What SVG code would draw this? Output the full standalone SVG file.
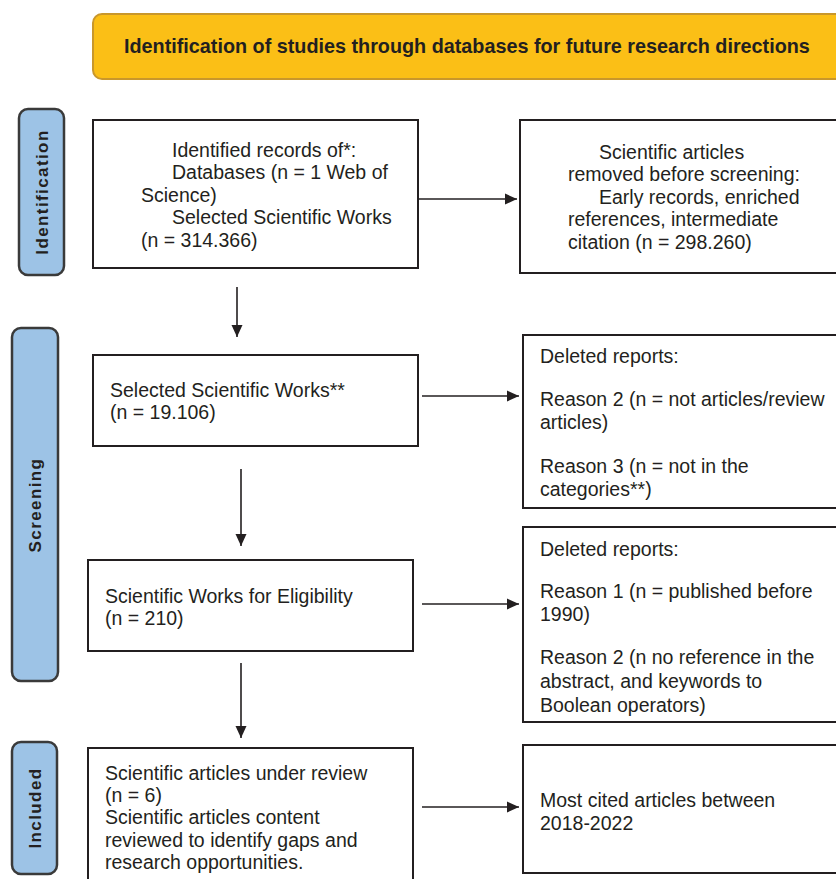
<svg xmlns="http://www.w3.org/2000/svg" width="836" height="879" viewBox="0 0 836 879">
<defs>
<style>
.box{fill:#fff;stroke:#231f20;stroke-width:2}
.bar{fill:#9dc3e6;stroke:#3a3a3a;stroke-width:2.5}
.t{font-family:"Liberation Sans",Arial,sans-serif;font-size:19.5px;fill:#231f20}
.side{font-family:"Liberation Sans",Arial,sans-serif;font-size:17px;font-weight:bold;fill:#231f20;text-anchor:middle;letter-spacing:1.4px}
.title{font-family:"Liberation Sans",Arial,sans-serif;font-size:19.8px;font-weight:bold;fill:#231f20}
.c{stroke:#231f20;stroke-width:1.6;fill:none;marker-end:url(#ah)}
</style>
<marker id="ah" viewBox="0 0 12 12" refX="12" refY="6" markerWidth="12" markerHeight="12" markerUnits="userSpaceOnUse" orient="auto">
<path d="M0,0.5 L12,6 L0,11.5 Z" fill="#231f20"/>
</marker>
</defs>
<rect width="836" height="879" fill="#fff"/>
<g id="title">
<rect x="93" y="14" width="755" height="65" rx="9" fill="#fbbf16" stroke="#c9972b" stroke-width="2"/>
<text class="title" x="124" y="53">Identification of studies through databases for future research directions</text>
</g>
<g id="phase-identification">
<rect class="bar" x="19" y="109" width="45" height="166" rx="9"/>
<text class="side" transform="translate(48,192) rotate(-90)">Identification</text>
</g>
<g id="phase-screening">
<rect class="bar" x="12" y="328" width="46" height="353" rx="9"/>
<text class="side" transform="translate(41,505) rotate(-90)">Screening</text>
</g>
<g id="phase-included">
<rect class="bar" x="12" y="742" width="45" height="132" rx="9"/>
<text class="side" transform="translate(41,808) rotate(-90)">Included</text>
</g>
<g id="identified">
<rect class="box" x="93" y="120" width="325" height="148"/>
<text class="t"><tspan x="172" y="157">Identified records of*:</tspan><tspan x="172" y="179">Databases (n = 1 Web of</tspan><tspan x="141" y="202">Science)</tspan><tspan x="172" y="224">Selected Scientific Works</tspan><tspan x="141" y="247">(n = 314.366)</tspan></text>
</g>
<g id="removed">
<rect class="box" x="520" y="120" width="330" height="153"/>
<text class="t"><tspan x="599" y="159">Scientific articles</tspan><tspan x="568" y="181">removed before screening:</tspan><tspan x="599" y="204">Early records, enriched</tspan><tspan x="568" y="226">references, intermediate</tspan><tspan x="568" y="249">citation (n = 298.260)</tspan></text>
</g>
<g id="selected">
<rect class="box" x="93" y="355" width="325" height="91"/>
<text class="t"><tspan x="110" y="397">Selected Scientific Works**</tspan><tspan x="110" y="419">(n = 19.106)</tspan></text>
</g>
<g id="deleted1">
<rect class="box" x="523" y="335" width="330" height="173"/>
<text class="t"><tspan x="540" y="363">Deleted reports:</tspan><tspan x="540" y="406">Reason 2 (n = not articles/review</tspan><tspan x="540" y="429">articles)</tspan><tspan x="540" y="473">Reason 3 (n = not in the</tspan><tspan x="540" y="496">categories**)</tspan></text>
</g>
<g id="eligibility">
<rect class="box" x="88" y="560" width="325" height="91"/>
<text class="t"><tspan x="105" y="603">Scientific Works for Eligibility</tspan><tspan x="105" y="625">(n = 210)</tspan></text>
</g>
<g id="deleted2">
<rect class="box" x="523" y="527" width="330" height="195"/>
<text class="t"><tspan x="540" y="556">Deleted reports:</tspan><tspan x="540" y="598">Reason 1 (n = published before</tspan><tspan x="540" y="621">1990)</tspan><tspan x="540" y="664">Reason 2 (n no reference in the</tspan><tspan x="540" y="688">abstract, and keywords to</tspan><tspan x="540" y="712">Boolean operators)</tspan></text>
</g>
<g id="review">
<rect class="box" x="88" y="748" width="325" height="145"/>
<text class="t"><tspan x="105" y="780">Scientific articles under review</tspan><tspan x="105" y="802">(n = 6)</tspan><tspan x="105" y="824">Scientific articles content</tspan><tspan x="105" y="847">reviewed to identify gaps and</tspan><tspan x="105" y="869">research opportunities.</tspan></text>
</g>
<g id="most-cited">
<rect class="box" x="523" y="745" width="330" height="128"/>
<text class="t"><tspan x="540" y="807">Most cited articles between</tspan><tspan x="540" y="830">2018-2022</tspan></text>
</g>
<g id="connectors">
<line class="c" x1="419" y1="199" x2="517" y2="199"/>
<line class="c" x1="237" y1="287" x2="237" y2="337"/>
<line class="c" x1="422" y1="396" x2="519" y2="396"/>
<line class="c" x1="241" y1="469" x2="241" y2="546"/>
<line class="c" x1="422" y1="604" x2="519" y2="604"/>
<line class="c" x1="241" y1="663" x2="241" y2="738"/>
<line class="c" x1="422" y1="807" x2="519" y2="807"/>
</g>
</svg>
